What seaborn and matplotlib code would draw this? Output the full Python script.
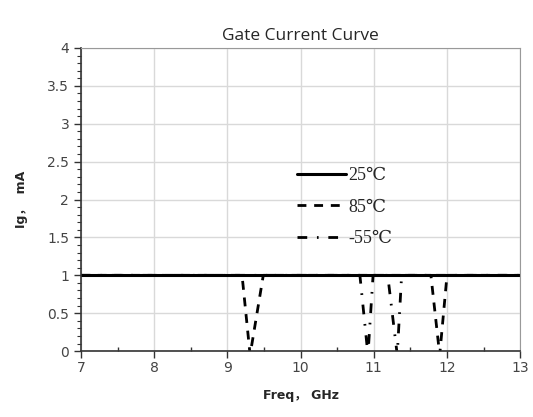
import numpy as np
import pandas as pd
import seaborn as sns
import matplotlib.pyplot as plt
from matplotlib.ticker import MultipleLocator, FuncFormatter

# frequency points (GHz) and gate current (mA)
freq_25 = [7.0, 13.0]
ig_25 = [1.0, 1.0]

freq_85 = [7.0, 9.2, 9.31, 9.49, 11.78, 11.9, 12.0, 13.0]
ig_85 = [1.0, 1.0, -0.05, 1.0, 1.0, -0.05, 1.0, 1.0]

freq_m55 = [7.0, 10.81, 10.92, 10.99, 11.19, 11.32, 11.38, 13.0]
ig_m55 = [1.0, 1.0, -0.05, 1.0, 1.0, -0.05, 1.0, 1.0]

labels = ["25℃", "85℃", "-55℃"]

df = pd.concat([
    pd.DataFrame({"freq": freq_25, "ig": ig_25, "temp": labels[0]}),
    pd.DataFrame({"freq": freq_85, "ig": ig_85, "temp": labels[1]}),
    pd.DataFrame({"freq": freq_m55, "ig": ig_m55, "temp": labels[2]}),
])

sns.set_style("white")
plt.rcParams['font.family'] = ['DejaVu Sans', 'Noto Sans CJK SC']

fig = plt.figure(figsize=(5.33, 4.17), dpi=100)
ax = fig.add_axes([0.152, 0.158, 0.824, 0.727])

# dashed curves first, the solid 25C line on top
sns.lineplot(data=df[df.temp == labels[1]], x="freq", y="ig", color="black",
             lw=2.0, ax=ax, label=labels[1], linestyle=(0, (3.2, 2.8)), sort=False)
sns.lineplot(data=df[df.temp == labels[2]], x="freq", y="ig", color="black",
             lw=2.0, ax=ax, label=labels[2], linestyle=(0, (3.5, 3.5, 0.6, 3.5)), sort=False)
sns.lineplot(data=df[df.temp == labels[0]], x="freq", y="ig", color="black",
             lw=2.2, ax=ax, label=labels[0], sort=False)

ax.set_xlim(7, 13)
ax.set_ylim(0, 4)
ax.xaxis.set_major_locator(MultipleLocator(1))
ax.xaxis.set_minor_locator(MultipleLocator(0.5))
ax.yaxis.set_major_locator(MultipleLocator(0.5))
ax.yaxis.set_minor_locator(MultipleLocator(0.1))
ax.yaxis.set_major_formatter(FuncFormatter(lambda v, p: f"{v:g}"))
ax.grid(True, which="major", color="#d9d9d9", lw=1.0)
ax.set_axisbelow(True)

for s in ["top", "right"]:
    ax.spines[s].set_color("#999999")
for s in ["left", "bottom"]:
    ax.spines[s].set_color("#333333")
    ax.spines[s].set_linewidth(1.2)

ax.tick_params(axis="both", which="major", direction="out", length=5, width=1,
               color="#333333", labelsize=10, labelcolor="#444444")
ax.tick_params(axis="y", which="minor", direction="out", length=3, width=0.8, color="#333333")
ax.tick_params(axis="x", which="minor", direction="in", length=3, width=1, color="#333333")
ax.tick_params(axis="x", which="major", pad=2)
ax.tick_params(right=False, top=False, which="both")
ax.xaxis.set_ticks_position("bottom")
ax.yaxis.set_ticks_position("left")

ax.set_xlabel("Freq， GHz", fontsize=9, fontweight="bold", labelpad=10)
ax.set_ylabel("Ig，  mA", fontsize=9, fontweight="bold", labelpad=14)
ax.set_title("Gate Current Curve", family=["Open Sans", "DejaVu Sans"], fontsize=12.5, pad=6)

handles, lbls = ax.get_legend_handles_labels()
order = [lbls.index(l) for l in labels]
ax.legend([handles[i] for i in order], labels, loc="upper left",
          bbox_to_anchor=(0.455, 0.66), frameon=False, handlelength=2.7,
          handletextpad=0.15, labelspacing=0.8,
          prop={"family": ["Liberation Serif", "DejaVu Serif"], "size": 13})

fig.savefig("out.png", dpi=100)
